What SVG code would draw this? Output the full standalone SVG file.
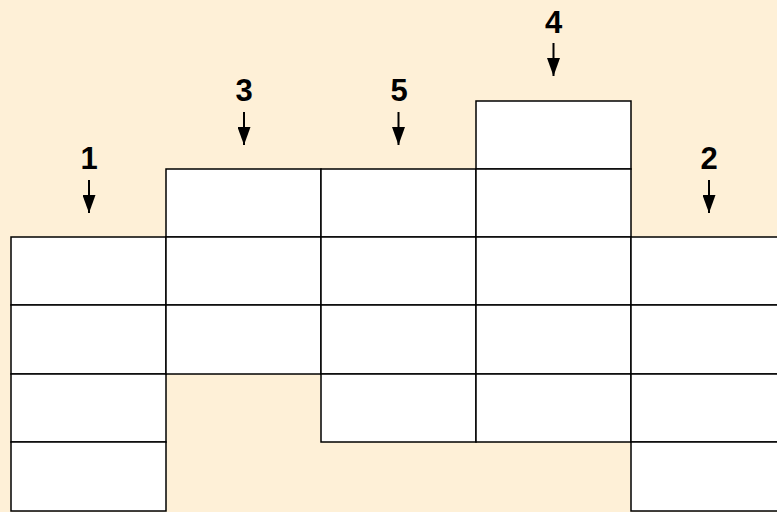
<svg xmlns="http://www.w3.org/2000/svg" width="777" height="512" viewBox="0 0 777 512">
<defs>
<style>
.cell{fill:#ffffff;stroke:#000000;stroke-width:1.5}
.lbl{font-family:"Liberation Sans",Arial,sans-serif;font-weight:bold;font-size:31px;fill:#000000;text-anchor:middle}
.arr{stroke:#000000;stroke-width:2;fill:none;marker-end:url(#head)}
</style>
<marker id="head" markerUnits="userSpaceOnUse" markerWidth="18" markerHeight="13" refX="18" refY="6.5" orient="auto" viewBox="0 0 18 13">
<path d="M0,0 L18,6.5 L0,13 Z" fill="#000000"/>
</marker>
</defs>
<rect x="0" y="0" width="777" height="512" fill="#fef0d7"/>
<g id="col1">
<rect class="cell" x="11" y="237" width="155" height="68"/>
<rect class="cell" x="11" y="305" width="155" height="69"/>
<rect class="cell" x="11" y="374" width="155" height="68"/>
<rect class="cell" x="11" y="442" width="155" height="69"/>
</g>
<g id="col2">
<rect class="cell" x="166" y="169" width="155" height="68"/>
<rect class="cell" x="166" y="237" width="155" height="68"/>
<rect class="cell" x="166" y="305" width="155" height="69"/>
</g>
<g id="col3">
<rect class="cell" x="321" y="169" width="155" height="68"/>
<rect class="cell" x="321" y="237" width="155" height="68"/>
<rect class="cell" x="321" y="305" width="155" height="69"/>
<rect class="cell" x="321" y="374" width="155" height="68"/>
</g>
<g id="col4">
<rect class="cell" x="476" y="101" width="155" height="68"/>
<rect class="cell" x="476" y="169" width="155" height="68"/>
<rect class="cell" x="476" y="237" width="155" height="68"/>
<rect class="cell" x="476" y="305" width="155" height="69"/>
<rect class="cell" x="476" y="374" width="155" height="68"/>
</g>
<g id="col5">
<rect class="cell" x="631" y="237" width="155" height="68"/>
<rect class="cell" x="631" y="305" width="155" height="69"/>
<rect class="cell" x="631" y="374" width="155" height="68"/>
<rect class="cell" x="631" y="442" width="155" height="69"/>
</g>
<g id="label1"><text class="lbl" x="89" y="169">1</text></g>
<g id="label3"><text class="lbl" x="244" y="101">3</text></g>
<g id="label5"><text class="lbl" x="399" y="101">5</text></g>
<g id="label4"><text class="lbl" x="553.5" y="33">4</text></g>
<g id="label2"><text class="lbl" x="709" y="169">2</text></g>
<g id="connectors">
<line class="arr" x1="89" y1="180" x2="89" y2="213"/>
<line class="arr" x1="244" y1="112" x2="244" y2="145"/>
<line class="arr" x1="398.5" y1="112" x2="398.5" y2="145"/>
<line class="arr" x1="553.5" y1="43" x2="553.5" y2="76"/>
<line class="arr" x1="709" y1="180" x2="709" y2="213"/>
</g>
</svg>
